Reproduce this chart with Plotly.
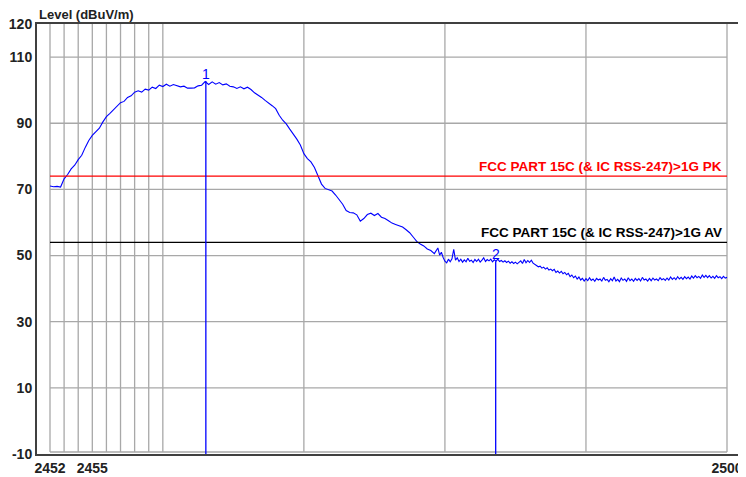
import numpy as np
import plotly.graph_objects as go

# Sweep part A: 2452.00 -> 2479.25 MHz, 0.25 MHz steps
FA_START, FA_STOP = 2452.0, 2479.25
level_a = [
    71.0, 70.8, 70.9, 70.7, 73.2, 74.5, 76.2, 77.3, 79.0, 80.3,   # 2452.00-2454.25
    82.7, 84.8, 86.3, 87.3, 88.5, 90.4, 92.0, 93.0, 94.0, 95.3,   # 2454.50-2456.75
    96.2, 96.6, 97.8, 98.3, 99.4, 99.8, 99.4, 100.3, 100.0, 100.9,  # 2457.00-2459.25
    100.5, 101.5, 101.1, 101.8, 101.2, 101.7, 101.4, 101.0, 101.2, 100.6,  # 2459.50-2461.75
    100.6, 100.7, 101.3, 101.5, 102.6, 101.7, 102.5, 101.8, 102.3, 101.6,  # 2462.00-2464.25
    101.9, 101.2, 101.0, 100.5, 101.0, 100.4, 100.9, 100.2, 99.2, 98.6,   # 2464.50-2466.75
    97.8, 96.9, 96.2, 95.3, 94.4, 92.4, 90.9, 89.8, 88.2, 86.8,   # 2467.00-2469.25
    85.2, 83.4, 80.8, 79.3, 78.3, 76.6, 74.0, 71.6, 70.3, 70.0,   # 2469.50-2471.75
    69.5, 68.3, 67.0, 65.5, 63.6, 63.0, 62.9, 62.3, 60.4, 61.2,   # 2472.00-2474.25
    62.4, 62.8, 62.1, 62.7, 61.6, 61.2, 60.5, 59.8, 59.4, 59.1,   # 2474.50-2476.75
    58.6, 57.8, 56.9, 55.6, 54.3, 53.5, 52.9, 52.0, 51.5, 50.6,   # 2477.00-2479.25
]
# Sweep part B: 2479.50 -> 2500.00 MHz, 0.125 MHz steps (noise floor region)
FB_START, FB_STOP = 2479.5, 2500.0
level_b = [
    52.3, 50.1, 51.0, 49.4, 48.3, 47.8, 48.9, 48.1,   # 2479.500-2480.375
    49.0, 51.9, 48.6, 49.3, 48.2, 48.9, 48.0, 48.7,   # 2480.500-2481.375
    48.1, 49.2, 48.3, 48.6, 47.9, 48.8, 48.2, 48.9,   # 2481.500-2482.375
    48.0, 48.6, 49.3, 48.2, 48.8, 48.4, 48.9, 48.1,   # 2482.500-2483.375
    48.7, 48.3, 48.9, 48.2, 48.5, 48.0, 48.4, 47.9,   # 2483.500-2484.375
    48.3, 47.7, 48.1, 47.6, 48.0, 47.5, 47.9, 48.4,   # 2484.500-2485.375
    47.6, 48.8, 47.8, 48.5, 47.9, 48.6, 47.7, 47.3,   # 2485.500-2486.375
    47.0, 46.6, 46.8, 46.2, 46.5, 45.9, 46.3, 45.6,   # 2486.500-2487.375
    45.9, 45.4, 45.8, 44.9, 45.3, 44.7, 45.2, 44.5,   # 2487.500-2488.375
    44.9, 44.2, 44.6, 43.6, 44.1, 43.3, 43.8, 42.9,   # 2488.500-2489.375
    43.5, 42.6, 43.1, 42.3, 43.0, 42.4, 43.3, 42.5,   # 2489.500-2490.375
    42.9, 42.2, 43.1, 42.6, 42.9, 42.3, 43.4, 42.5,   # 2490.500-2491.375
    42.8, 42.1, 43.0, 42.4, 43.5, 42.3, 42.8, 42.1,   # 2491.500-2492.375
    43.2, 42.5, 42.9, 42.2, 43.3, 42.4, 42.9, 42.2,   # 2492.500-2493.375
    43.1, 42.5, 43.0, 42.3, 43.4, 42.6, 42.9, 42.3,   # 2493.500-2494.375
    43.1, 42.4, 43.2, 42.6, 42.9, 42.4, 43.3, 42.7,   # 2494.500-2495.375
    43.0, 42.5, 43.2, 42.6, 43.5, 42.8, 43.3, 42.7,   # 2495.500-2496.375
    43.6, 42.9, 43.4, 42.8, 43.6, 43.0, 43.5, 42.9,   # 2496.500-2497.375
    43.8, 43.2, 43.9, 43.3, 43.7, 43.1, 44.1, 43.4,   # 2497.500-2498.375
    44.0, 43.3, 43.9, 43.2, 43.7, 43.1, 43.9, 43.3,   # 2498.500-2499.375
    43.6, 43.0, 43.7, 43.2, 43.4,                     # 2499.500-2500.000
]
freq = np.concatenate([np.linspace(FA_START, FA_STOP, len(level_a)),
                       np.linspace(FB_START, FB_STOP, len(level_b))])
level = level_a + level_b

F_START, F_STOP = 2452.0, 2500.0

# Limits
limit_names = ["FCC PART 15C (& IC RSS-247)>1G PK", "FCC PART 15C (& IC RSS-247)>1G AV"]
limit_values = [74, 54]
limit_colors = ["#ff0000", "#000000"]

# Markers
marker_ids = ["1", "2"]
marker_freq = [2463.05, 2483.6]
marker_level = [102.8, 48.3]

# Axis ticks / grid
x_grid = [2452, 2453, 2454, 2455, 2456, 2457, 2458, 2459, 2460, 2470, 2480, 2490, 2500]
x_ticks = [2452, 2455, 2500]
y_grid = [-10, 10, 30, 50, 70, 90, 110]
y_ticks = [-10, 10, 30, 50, 70, 90, 110, 120]
Y_MIN, Y_MAX = -10, 120

FONT = "Liberation Sans, Arial, sans-serif"
BLUE = "#0000ff"
GRID = "#a8a8a8"

fig = go.Figure()

shapes = []
for gx in x_grid:
    shapes.append(dict(type="line", xref="x", yref="y", x0=gx, x1=gx, y0=Y_MIN + 0.6, y1=Y_MAX,
                       line=dict(color=GRID, width=1.3), layer="below"))
for gy in y_grid:
    yy = gy + 0.6 if gy == Y_MIN else gy
    shapes.append(dict(type="line", xref="x", yref="y", x0=F_START, x1=F_STOP, y0=yy, y1=yy,
                       line=dict(color=GRID, width=1.3), layer="below"))

# limit lines
for v, c in zip(limit_values, limit_colors):
    shapes.append(dict(type="line", xref="x", yref="y", x0=F_START, x1=F_STOP, y0=v, y1=v,
                       line=dict(color=c, width=1.2), layer="above"))

# marker lines
for mf, ml in zip(marker_freq, marker_level):
    shapes.append(dict(type="line", xref="x", yref="y", x0=mf, x1=mf, y0=Y_MIN, y1=ml,
                       line=dict(color=BLUE, width=1.3), layer="above"))

fig.add_trace(go.Scatter(x=freq, y=level, mode="lines",
                         line=dict(color=BLUE, width=1.1), hoverinfo="x+y", showlegend=False))

annotations = []
for name, v, c in zip(limit_names, limit_values, limit_colors):
    annotations.append(dict(x=F_STOP, y=v, xref="x", yref="y", text=name, showarrow=False,
                            xanchor="right", yanchor="bottom", xshift=-3, yshift=0,
                            font=dict(family=FONT, size=13.5, color=c, weight="bold")))
for mid, mf, ml in zip(marker_ids, marker_freq, marker_level):
    annotations.append(dict(x=mf, y=ml, xref="x", yref="y", text=mid, showarrow=False,
                            xanchor="center", yanchor="bottom", yshift=-3,
                            font=dict(family=FONT, size=14, color=BLUE)))
annotations.append(dict(x=0, y=1, xref="paper", yref="paper", text="Level (dBuV/m)",
                        showarrow=False, xanchor="left", yanchor="bottom", yshift=0,
                        font=dict(family=FONT, size=13, color="#222222", weight="bold")))

px_per_mhz = (727 - 50) / (F_STOP - F_START)
pad = 13 / px_per_mhz

# The page body adds an 8 px offset, so the figure is sized/positioned to compensate.
fig.update_layout(
    width=738, height=469,
    margin=dict(l=29, r=6, t=16, b=23, autoexpand=False),
    paper_bgcolor="white", plot_bgcolor="white",
    shapes=shapes, annotations=annotations,
    xaxis=dict(range=[F_START - pad, F_STOP + pad], showgrid=False, zeroline=False, automargin=False,
               tickmode="array", tickvals=x_ticks, ticktext=[str(t) for t in x_ticks],
               ticks="", ticklabelstandoff=0, showline=True, mirror=True, linecolor="#404040", linewidth=2,
               tickfont=dict(family=FONT, size=14, color="#222222", weight="bold")),
    yaxis=dict(range=[Y_MIN, Y_MAX], showgrid=False, zeroline=False, automargin=False,
               tickmode="array", tickvals=y_ticks, ticktext=[str(t) for t in y_ticks],
               ticks="", ticklabelstandoff=0, showline=True, mirror=True, linecolor="#404040", linewidth=2,
               tickfont=dict(family=FONT, size=14, color="#222222", weight="bold")),
)

fig.write_html("out.html")
